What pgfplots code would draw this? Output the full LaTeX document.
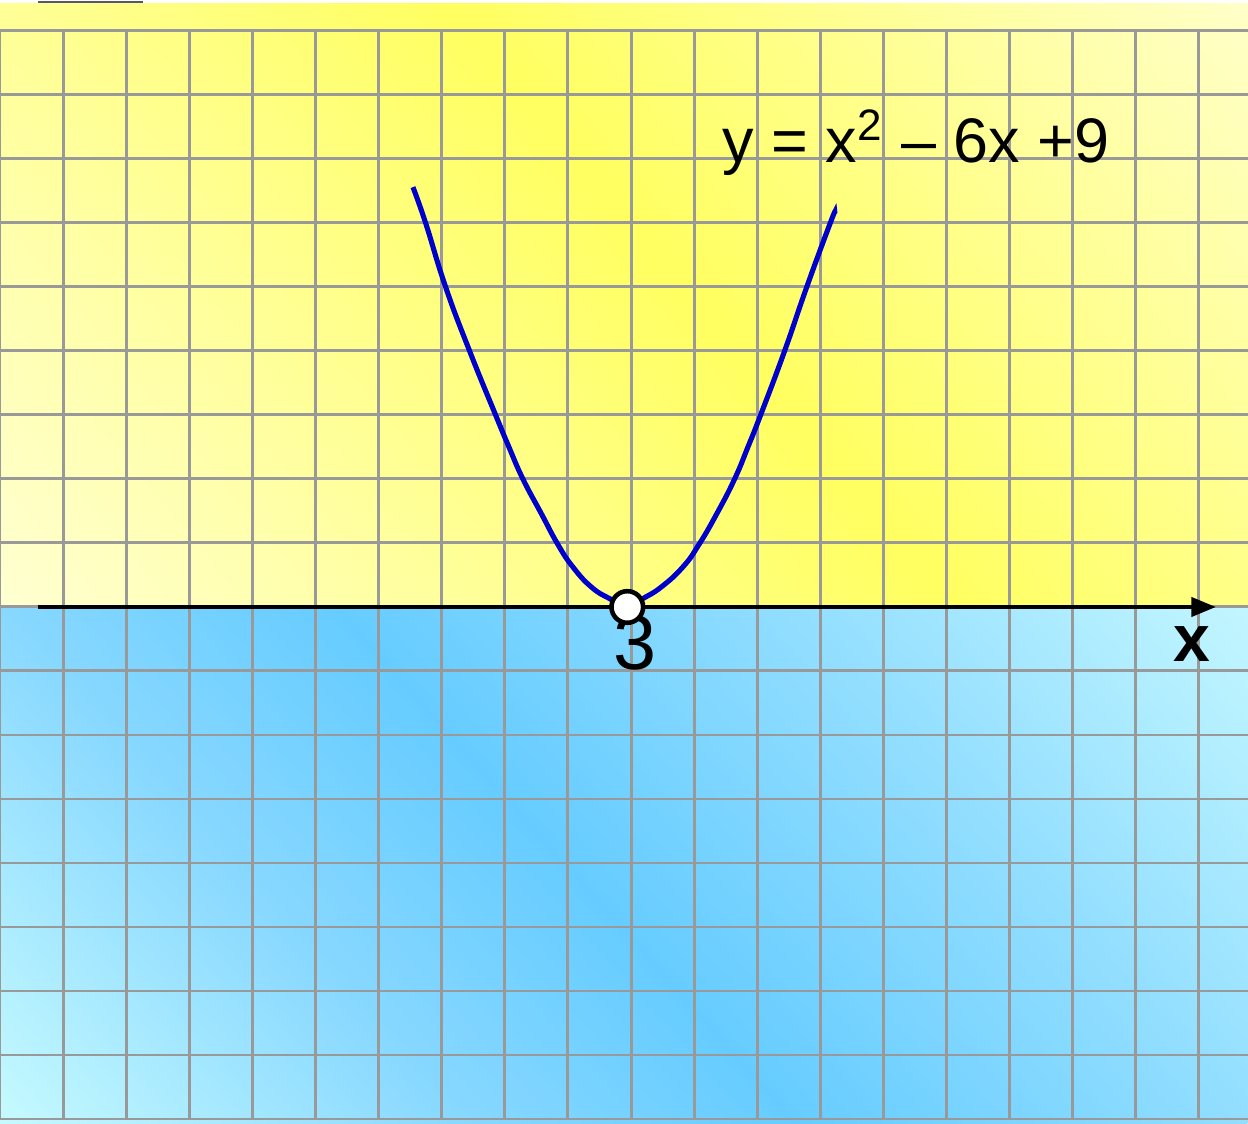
\documentclass[border=0pt]{standalone}
\usepackage{pgfplots}
\pgfplotsset{compat=1.18}
\usepackage{fontspec}
\setmainfont{Liberation Sans}
\usetikzlibrary{arrows.meta}

\definecolor{gridgray}{HTML}{999999}
\definecolor{curveblue}{HTML}{0000CC}
\definecolor{topbar}{HTML}{555577}
% yellow band (upper half)
\definecolor{yA}{HTML}{FFFFD2}
\definecolor{yB}{HTML}{FFFF99}
\definecolor{yC}{HTML}{FFFF60}
\definecolor{yD}{HTML}{FFFF99}
\definecolor{yE}{HTML}{FFFFC8}
% blue band (lower half)
\definecolor{bA}{HTML}{C6FAFF}
\definecolor{bB}{HTML}{88D8FF}
\definecolor{bC}{HTML}{66CCFF}
\definecolor{bD}{HTML}{92DEFF}
\definecolor{bE}{HTML}{C2F6FF}

\pgfdeclarehorizontalshading{yband}{100bp}{color(0bp)=(yA); color(31.6bp)=(yA); color(40.9bp)=(yB); color(50bp)=(yC); color(58.4bp)=(yD); color(65.3bp)=(yE); color(100bp)=(yE)}
\pgfdeclarehorizontalshading{bband}{100bp}{color(0bp)=(bA); color(35.1bp)=(bA); color(43.7bp)=(bB); color(50bp)=(bC); color(58.5bp)=(bD); color(67bp)=(bE); color(100bp)=(bE)}

\begin{document}
\begin{tikzpicture}
\useasboundingbox (0,0) rectangle (12.48cm,11.24cm);
% background, 1 unit = 1 pixel of the reference
\begin{scope}[x=0.01cm,y=0.01cm]
  \begin{scope}
    \clip (0,517) rectangle (1248,1122);
    \shade[shading=yband, shading angle=39.8] (-300,-177) rectangle (1700,1823);
  \end{scope}
  \begin{scope}
    \clip (0,0) rectangle (1248,517);
    \shade[shading=bband, shading angle=41.7] (-650,-499) rectangle (1350,1501);
  \end{scope}
  \fill[white] (0,1122) rectangle (1248,1124);
  \fill[topbar] (38,1122) rectangle (143,1124);
\end{scope}

\begin{axis}[
  at={(0,0)}, anchor=south west,
  scale only axis, width=12.48cm, height=11.24cm,
  xmin=-7, xmax=12.778, ymin=-8.078, ymax=9.484,
  hide axis, clip=false,
]
\pgfplotsinvokeforeach{-7,...,12}{
  \draw[gridgray, line width=0.85pt] (axis cs:#1,-8) -- (axis cs:#1,9);
}
\pgfplotsinvokeforeach{-8,...,9}{
  \draw[gridgray, line width=0.85pt] (axis cs:-7,#1) -- (axis cs:12.778,#1);
}

\draw[black, line width=1.15pt, -{Triangle[length=7pt,width=5.4pt]}]
  (axis cs:-6.398,0) -- (axis cs:12.27,0);

\addplot[curveblue, line width=1.45pt, smooth, tension=0.8] coordinates {
  (-0.456,6.56) (-0.255,6.0) (0.062,5.0) (0.442,4.0) (0.854,3.0)
  (1.065,2.5) (1.287,2.0) (1.578,1.46) (1.842,0.975) (2.079,0.625)
  (2.371,0.3125) (2.661,0.131) (2.96,0.0)
  (3.189,0.131) (3.480,0.3125) (3.822,0.625) (4.076,0.975) (4.361,1.46)
  (4.642,2.0) (4.853,2.5) (5.054,3.0) (5.434,4.0) (5.785,5.0)
  (6.158,6.0) (6.227,6.156)
};

\node[anchor=base west, inner sep=0pt, font=\fontsize{17.9}{20}\selectfont]
  at (axis cs:4.442,6.94) {y = x\textsuperscript{2} \textendash{} 6x +9};
\node[inner sep=0pt, font=\fontsize{22}{24}\selectfont] at (axis cs:3.063,-0.5625) {3};
\node[inner sep=0pt, font=\fontsize{18.8}{20}\selectfont\bfseries] at (axis cs:11.89,-0.578) {x};

\addplot[only marks, mark=*, mark size=4.5pt,
  mark options={fill=white, draw=black, line width=1.3pt}] coordinates {(2.941,0)};
\end{axis}
\end{tikzpicture}
\end{document}
